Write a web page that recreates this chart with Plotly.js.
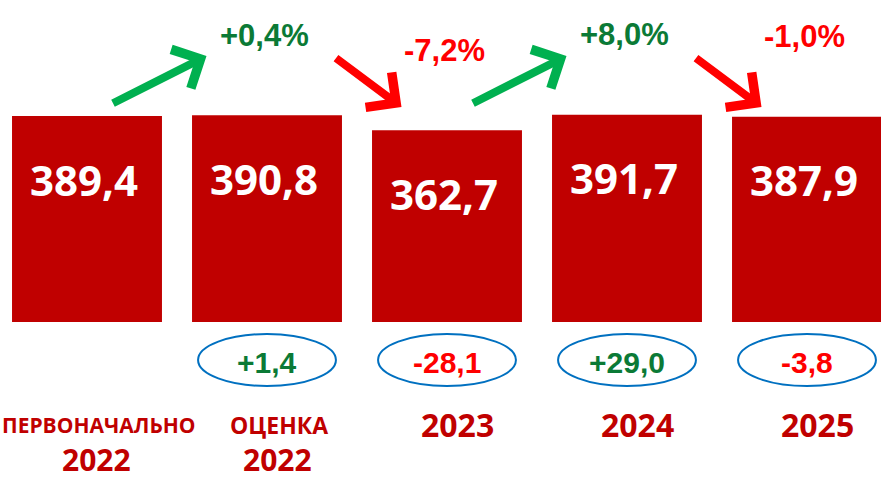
<!DOCTYPE html>
<html>
<head>
<meta charset="utf-8">
<script src="https://cdn.plot.ly/plotly-3.0.1.min.js"></script>
<style>html,body{margin:0;padding:0;background:#fff;}#chart{width:881px;height:482px;}</style>
</head>
<body>
<div id="chart"></div>
<script>
// ---- data ----
const categories = ["ПЕРВОНАЧАЛЬНО 2022", "ОЦЕНКА 2022", "2023 ", "2024 ", "2025 "];
const labelTop = ["ПЕРВОНАЧАЛЬНО", "ОЦЕНКА", "", "", ""];
const labelYear = ["2022", "2022", "2023", "2024", "2025"];
const values = [389.4, 390.8, 362.7, 391.7, 387.9];
const changeAbs = ["+1,4", "-28,1", "+29,0", "-3,8"];
const changePct = ["+0,4%", "-7,2%", "+8,0%", "-1,0%"];

// ---- styling / layout constants ----
const W = 881, H = 482;
const X_RANGE = [-0.4833, 4.4111];
const Y_RANGE = [-302.5, 608.7];
const PX_X = W / (X_RANGE[1] - X_RANGE[0]);   // px per category unit
const PX_Y = H / (Y_RANGE[1] - Y_RANGE[0]);   // px per value unit
const pyToData = py => Y_RANGE[1] - py / PX_Y; // pixel row -> data value

const BAR = "#C00000", GREEN_T = "#0B7A36", GREEN_A = "#00B050", RED = "#FF0000", BLUE = "#0070C0";
const fmt = v => v.toFixed(1).replace(".", ",");

const trace = {
  type: "bar",
  x: categories,
  y: values,
  marker: {color: BAR},
  width: 0.833,
  hoverinfo: "x+y",
  showlegend: false
};

const annotations = [];
const shapes = [];

// values inside bars
values.forEach((v, i) => {
  annotations.push({
    x: i, y: v, xref: "x", yref: "y", yshift: -63, xshift: -3,
    text: fmt(v), showarrow: false, yanchor: "middle",
    font: {family: "Open Sans, Noto Sans, sans-serif", size: 42, color: "#FFFFFF", weight: 700}
  });
});

// category labels
categories.forEach((c, i) => {
  if (labelTop[i]) {
    annotations.push({
      x: i, y: pyToData(425), xref: "x", yref: "y", xshift: 12,
      text: "<b>" + labelTop[i] + "</b>", showarrow: false, yanchor: "middle",
      font: {family: "Open Sans, Noto Sans, sans-serif", size: i === 0 ? 21 : 23, color: BAR}
    });
    annotations.push({
      x: i, y: pyToData(481), xref: "x", yref: "y", xshift: 10,
      text: "<b>" + labelYear[i] + "</b>", showarrow: false, yanchor: "bottom",
      borderpad: 0,
      font: {family: "Open Sans, Noto Sans, sans-serif", size: 30, color: BAR}
    });
  } else {
    annotations.push({
      x: i, y: pyToData(424), xref: "x", yref: "y", xshift: 10,
      text: "<b>" + labelYear[i] + "</b>", showarrow: false, yanchor: "middle",
      font: {family: "Open Sans, Noto Sans, sans-serif", size: 32, color: BAR}
    });
  }
});

// changes: ellipses + absolute change, arrows + percent change
changeAbs.forEach((t, k) => {
  const i = k + 1;
  const up = values[i] >= values[k];
  const col = up ? GREEN_T : RED;
  shapes.push({
    type: "circle", xref: "x", yref: "y",
    x0: i - 0.383, x1: i + 0.383, y0: pyToData(386), y1: pyToData(334),
    line: {color: BLUE, width: 2}, fillcolor: "rgba(0,0,0,0)"
  });
  annotations.push({
    x: i, y: pyToData(362), xref: "x", yref: "y",
    text: "<b>" + t + "</b>", showarrow: false, yanchor: "middle",
    font: {family: "Liberation Sans, Arial, sans-serif", size: 30, color: col}
  });
  annotations.push({
    x: i, y: values[i], xref: "x", yref: "y", yshift: 80, xshift: -3,
    text: "<b>" + changePct[k] + "</b>", showarrow: false, yanchor: "middle",
    font: {family: "Liberation Sans, Arial, sans-serif", size: 31, color: col}
  });
  // arrow between bars
  const dx = up ? 95 : 67, dy = up ? -48 : 50;
  const xc = k + 0.5 + (up ? -18 : 11) / PX_X;
  const yc = pyToData(up ? 80 : 82);
  annotations.push({
    x: xc + (dx / 2) / PX_X, y: yc - (dy / 2) / PX_Y, xref: "x", yref: "y",
    ax: -dx, ay: -dy, axref: "pixel", ayref: "pixel",
    text: "", showarrow: true, arrowhead: 4, arrowsize: 1.05, arrowwidth: 8,
    arrowcolor: up ? GREEN_A : RED, standoff: 0, startstandoff: 0
  });
});

const layout = {
  width: W, height: H,
  margin: {l: 0, r: 0, t: 0, b: 0, pad: 0},
  paper_bgcolor: "#FFFFFF", plot_bgcolor: "#FFFFFF",
  xaxis: {type: "category", range: X_RANGE, showgrid: false, zeroline: false, showticklabels: false, showline: false, fixedrange: true},
  yaxis: {range: Y_RANGE, showgrid: false, zeroline: false, showticklabels: false, showline: false, fixedrange: true},
  annotations: annotations,
  shapes: shapes,
  showlegend: false
};

Plotly.newPlot("chart", [trace], layout, {displayModeBar: false, staticPlot: true});
</script>
</body>
</html>
